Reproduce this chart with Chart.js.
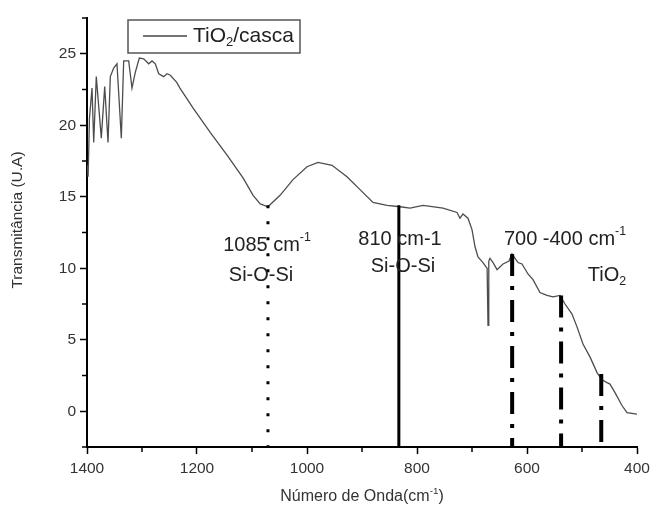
<!DOCTYPE html>
<html lang="pt">
<head>
<meta charset="UTF-8">
<title>TiO2/casca</title>
<script src="https://cdn.jsdelivr.net/npm/chart.js@4.4.0/dist/chart.umd.min.js"></script>
<style>
  html, body { margin: 0; padding: 0; background: #fff; }
  #wrap { width: 655px; height: 514px; }
</style>
</head>
<body>
<div id="wrap"><canvas id="ftir" width="655" height="514"></canvas></div>
<script>
// espectro
const waveNumber = [1399.5, 1398, 1395.5, 1390.9, 1387.8, 1383.1, 1374.0, 1367.8, 1361.8, 1357.6, 1351.5, 1345.5,
  1337.6, 1333.3, 1324.2, 1318.2, 1312.2, 1304.9, 1296.9, 1287.8, 1281.8, 1275.8, 1269.6, 1260.5, 1254.5, 1248.5,
  1236.9, 1231, 1207, 1176, 1145, 1116, 1098, 1085, 1071, 1049, 1025.5, 1000, 980, 954.5, 927.3, 903.6, 880,
  854.5, 830.9, 812.7, 789.1, 752.7, 727.3, 721.8, 716.4, 707.3, 700, 694.5, 689.1, 680, 674.5, 672.5, 670.9,
  669.5, 667.3, 661.8, 654.5, 643.6, 632.7, 627.3, 616.4, 609.1, 598.2, 589.1, 576.4, 563.6, 552.7, 540, 530.9,
  518.2, 509.1, 498.2, 485.5, 472.7, 463.6, 454.5, 449.1, 440, 427.3, 418.2, 400];
const transmittance = [17.2, 16.4, 20.5, 22.6, 18.8, 23.4, 19.1, 22.7, 18.8, 23.4, 24.0, 24.3,
  19.1, 24.5, 24.5, 22.6, 23.7, 24.7, 24.65, 24.3, 24.5, 24.3, 23.6, 23.4, 23.6, 23.5,
  23.0, 22.6, 21.2, 19.5, 17.9, 16.3, 15.1, 14.5, 14.3, 15.1, 16.2, 17.1, 17.4, 17.2, 16.4, 15.5, 14.6,
  14.4, 14.3, 14.2, 14.4, 14.2, 13.9, 13.5, 13.8, 13.5, 12.7, 11.5, 10.8, 10.4, 10.1, 10.0, 6.0,
  10.5, 10.7, 10.4, 9.9, 10.3, 10.5, 11.0, 10.4, 10.3, 9.6, 9.2, 8.3, 8.1, 8.0, 8.1, 7.5,
  6.8, 5.9, 4.7, 3.8, 2.7, 2.2, 2.0, 1.9, 1.3, 0.4, -0.1, -0.2];

const seriesName = 'TiO_{2}/casca';

const xTicks = [1400, 1200, 1000, 800, 600, 400];
const xMinorTicks = [1300, 1100, 900, 700, 500];
const yTicks = [0, 5, 10, 15, 20, 25];
const yMinorTicks = [-2.5, 2.5, 7.5, 12.5, 17.5, 22.5, 27.5];

// linhas verticais das bandas
const bandWave = [1071, 833, 627, 538, 465];
const bandTop = [14.4, 14.4, 11.0, 8.1, 2.6];
const bandKind = ['dot', 'solid', 'dashdot', 'dashdot', 'dashdot'];

// textos das bandas
const labelText = ['1085 cm^{-1}', 'Si-O-Si', '810 cm-1', 'Si-O-Si', '700 -400 cm^{-1}', 'TiO_{2}'];
const labelWave = [1072.7, 1083.6, 830.9, 825.5, 530.9, 454.5];
const labelValue = [11.6, 9.5, 12.0, 10.1, 12.0, 9.5];

const yMin = -2.5, yMax = 27.5;
const FONT = '"Liberation Sans", Arial, sans-serif';

// texto com ^{} e _{}
function drawRich(ctx, str, x, y, size, align) {
  const parts = str.split(/(\^\{[^}]*\}|_\{[^}]*\})/).filter(s => s.length);
  const segs = parts.map(p => {
    if (p.startsWith('^{')) return { t: p.slice(2, -1), s: size * 0.62, dy: -size * 0.38 };
    if (p.startsWith('_{')) return { t: p.slice(2, -1), s: size * 0.62, dy: size * 0.3 };
    return { t: p, s: size, dy: 0 };
  });
  let total = 0;
  segs.forEach(sg => { ctx.font = sg.s + 'px ' + FONT; sg.w = ctx.measureText(sg.t).width; total += sg.w; });
  let cx = align === 'left' ? x : x - total / 2;
  ctx.textAlign = 'left';
  ctx.textBaseline = 'middle';
  segs.forEach(sg => {
    ctx.font = sg.s + 'px ' + FONT;
    ctx.fillText(sg.t, cx, y + sg.dy);
    cx += sg.w;
  });
}

const dashFor = { dot: [3, 13], solid: [], dashdot: [22, 10, 4, 10] };
const widthFor = { dot: 3, solid: 3, dashdot: 4 };

const bandSets = bandWave.map((w, i) => ({
  data: [{ x: w, y: bandTop[i] }, { x: w, y: yMin }],
  borderColor: '#000',
  borderWidth: widthFor[bandKind[i]],
  borderDash: dashFor[bandKind[i]],
  borderCapStyle: 'butt',
  pointRadius: 0,
  order: 0
}));

const extras = {
  id: 'extras',
  afterDraw(chart) {
    const ctx = chart.ctx;
    const xs = chart.scales.x, ys = chart.scales.y;
    const area = chart.chartArea;
    ctx.save();
    // ticks menores
    ctx.strokeStyle = '#000';
    ctx.lineWidth = 1.5;
    xMinorTicks.forEach(v => {
      const p = xs.getPixelForValue(v);
      ctx.beginPath(); ctx.moveTo(p, area.bottom); ctx.lineTo(p, area.bottom + 5); ctx.stroke();
    });
    yMinorTicks.forEach(v => {
      const p = ys.getPixelForValue(v);
      ctx.beginPath(); ctx.moveTo(area.left - 5, p); ctx.lineTo(area.left, p); ctx.stroke();
    });
    // textos
    ctx.fillStyle = '#222';
    labelText.forEach((t, i) => {
      drawRich(ctx, t, xs.getPixelForValue(labelWave[i]), ys.getPixelForValue(labelValue[i]), 20, 'center');
    });
    // legenda
    const lx = area.left + 41, ly = area.top + 2;
    ctx.strokeStyle = '#555';
    ctx.lineWidth = 1.5;
    ctx.strokeRect(lx, ly, 172, 33);
    ctx.strokeStyle = '#444';
    ctx.lineWidth = 1.3;
    ctx.beginPath(); ctx.moveTo(lx + 15, ly + 16); ctx.lineTo(lx + 59, ly + 16); ctx.stroke();
    ctx.fillStyle = '#222';
    drawRich(ctx, seriesName, lx + 65, ly + 16, 21, 'left');
    // titulos dos eixos
    ctx.fillStyle = '#333';
    drawRich(ctx, 'Número de Onda(cm^{-1})', (area.left + area.right) / 2, area.bottom + 50, 16, 'center');
    ctx.translate(18, 220);
    ctx.rotate(-Math.PI / 2);
    drawRich(ctx, 'Transmitância (U.A)', 0, 0, 15.5, 'center');
    ctx.restore();
  }
};

new Chart(document.getElementById('ftir'), {
  type: 'line',
  data: {
    datasets: [{
      label: 'TiO2/casca',
      data: waveNumber.map((w, i) => ({ x: w, y: transmittance[i] })),
      borderColor: '#4d4d4d',
      borderWidth: 1.3,
      pointRadius: 0,
      tension: 0,
      order: 1
    }].concat(bandSets)
  },
  options: {
    responsive: false,
    animation: false,
    layout: { padding: { top: 18, right: 18, left: 0, bottom: 0 } },
    plugins: { legend: { display: false }, tooltip: { enabled: false } },
    scales: {
      x: {
        type: 'linear',
        reverse: true,
        min: 400,
        max: 1400,
        afterBuildTicks: s => { s.ticks = xTicks.map(v => ({ value: v })); },
        afterFit: s => { s.height = 67; },
        ticks: { color: '#333', font: { family: FONT, size: 15.5 }, padding: 5, maxRotation: 0, callback: v => String(v) },
        grid: { drawOnChartArea: false, tickLength: 7, tickColor: '#000', tickWidth: 1.5 },
        border: { color: '#000', width: 2 }
      },
      y: {
        min: yMin,
        max: yMax,
        afterBuildTicks: s => { s.ticks = yTicks.map(v => ({ value: v })); },
        afterFit: s => { s.width = 87; },
        ticks: { color: '#333', font: { family: FONT, size: 15.5 }, padding: 4, callback: v => String(v) },
        grid: { drawOnChartArea: false, tickLength: 7, tickColor: '#000', tickWidth: 1.5 },
        border: { color: '#000', width: 2 }
      }
    }
  },
  plugins: [extras]
});
</script>
</body>
</html>
